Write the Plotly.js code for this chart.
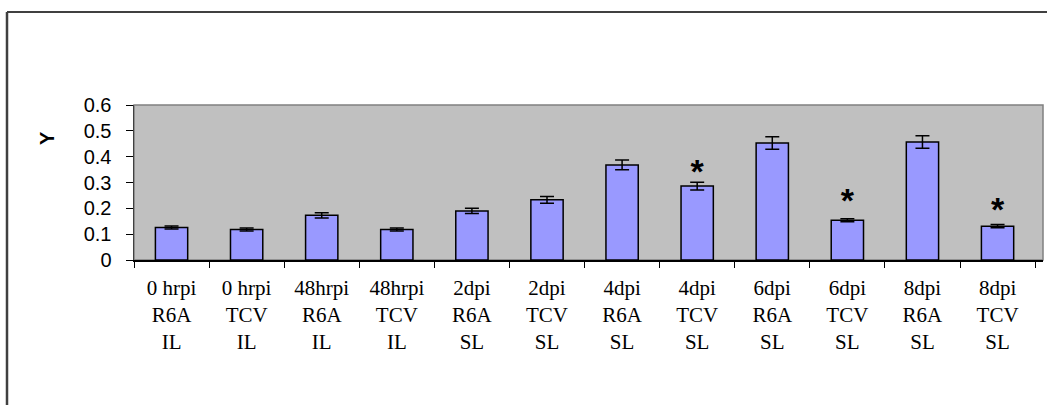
<!DOCTYPE html>
<html>
<head>
<meta charset="utf-8">
<script src="https://cdn.plot.ly/plotly-3.0.1.min.js"></script>
<style>html,body{margin:0;padding:0;background:#fff;}#chart{width:1047px;height:405px;}</style>
</head>
<body>
<div id="chart"></div>
<script>
// Data
var categories = [
  "0 hrpi<br>R6A<br>IL", "0 hrpi<br>TCV<br>IL", "48hrpi<br>R6A<br>IL", "48hrpi<br>TCV<br>IL",
  "2dpi<br>R6A<br>SL", "2dpi<br>TCV<br>SL", "4dpi<br>R6A<br>SL", "4dpi<br>TCV<br>SL",
  "6dpi<br>R6A<br>SL", "6dpi<br>TCV<br>SL", "8dpi<br>R6A<br>SL", "8dpi<br>TCV<br>SL"
];
var values = [0.126, 0.118, 0.173, 0.118, 0.190, 0.233, 0.368, 0.286, 0.453, 0.154, 0.457, 0.131];
var errors = [0.006, 0.006, 0.010, 0.006, 0.010, 0.013, 0.019, 0.015, 0.024, 0.006, 0.024, 0.006];
var sigCategories = [categories[7], categories[9], categories[11]];
var sigLabelY = [0.33, 0.22, 0.185];
var yTickVals = [0, 0.1, 0.2, 0.3, 0.4, 0.5, 0.6];
var yTickText = ["0", "0.1", "0.2", "0.3", "0.4", "0.5", "0.6"];

var bars = {
  type: 'bar',
  x: categories,
  y: values,
  marker: {color: '#9999FF', line: {color: '#000000', width: 1.5}},
  error_y: {type: 'data', array: errors, visible: true, color: '#000000', thickness: 1.5, width: 7},
  hoverinfo: 'none'
};
var stars = {
  type: 'scatter',
  mode: 'text',
  x: sigCategories,
  y: sigLabelY,
  text: ['<b>*</b>', '<b>*</b>', '<b>*</b>'],
  textposition: 'middle center',
  textfont: {family: 'Arial, Liberation Sans, sans-serif', size: 34, color: '#000000'},
  hoverinfo: 'none'
};

var L = 134, R = 4, T = 105, B = 145, W = 1047, H = 405;
var pw = W - L - R, ph = H - T - B;
function px2x(p){ return (p - L) / pw; }
function py2y(p){ return (H - B - p) / ph; }

var layout = {
  width: W, height: H,
  margin: {l: L, r: R, t: T, b: B, pad: 0},
  paper_bgcolor: '#ffffff',
  plot_bgcolor: '#C0C0C0',
  showlegend: false,
  bargap: 0.57,
  font: {family: 'Arial, Liberation Sans, sans-serif', color: '#000000'},
  xaxis: {
    type: 'category',
    showgrid: false,
    showline: true, linecolor: '#000000', linewidth: 1.5,
    ticks: 'outside', tickson: 'boundaries', ticklen: 6, tickcolor: '#000000', tickwidth: 1,
    tickfont: {family: 'Times New Roman, Liberation Serif, serif', size: 21, color: '#000000'},
    ticklabelstandoff: 8,
    zeroline: false,
    fixedrange: true
  },
  yaxis: {
    range: [0, 0.6],
    tickvals: yTickVals, ticktext: yTickText,
    showgrid: false,
    showline: true, linecolor: '#404040', linewidth: 1.5,
    ticks: 'outside', ticklen: 7, tickcolor: '#000000', tickwidth: 1,
    tickfont: {family: 'Arial, Liberation Sans, sans-serif', size: 20, color: '#000000'},
    ticklabelstandoff: 10,
    zeroline: false,
    fixedrange: true
  },
  shapes: [
    {type: 'rect', xref: 'paper', yref: 'paper', x0: 0, x1: 1, y0: 0, y1: 1,
     line: {color: '#808080', width: 1.5}, layer: 'below'},
    {type: 'line', xref: 'paper', yref: 'paper', x0: px2x(7), x1: px2x(1047), y0: py2y(12), y1: py2y(12),
     line: {color: '#000000', width: 1.5}},
    {type: 'line', xref: 'paper', yref: 'paper', x0: px2x(7), x1: px2x(7), y0: py2y(12), y1: py2y(410),
     line: {color: '#404040', width: 2.5}}
  ],
  annotations: [
    {text: '<b>Y</b>', xref: 'paper', yref: 'paper', x: px2x(47), y: py2y(138),
     showarrow: false, textangle: -90, xanchor: 'center', yanchor: 'middle',
     font: {family: 'Arial, Liberation Sans, sans-serif', size: 20, color: '#000000'}}
  ]
};

Plotly.newPlot('chart', [bars, stars], layout, {displayModeBar: false, staticPlot: true});
</script>
</body>
</html>
